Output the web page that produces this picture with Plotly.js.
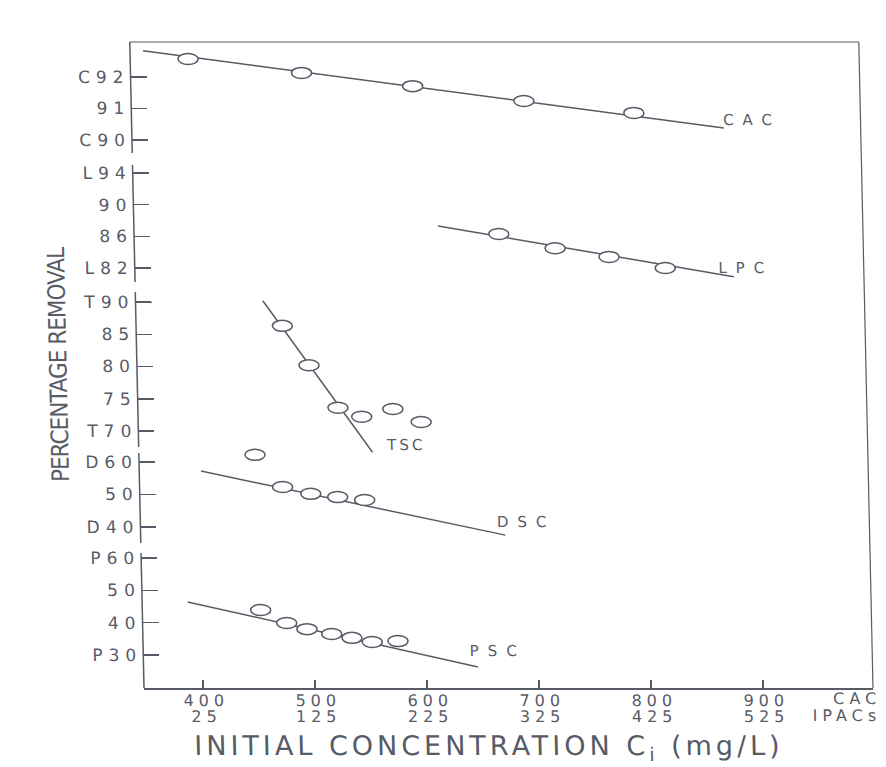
<!DOCTYPE html>
<html>
<head>
<meta charset="utf-8">
<script src="https://cdn.plot.ly/plotly-3.0.1.min.js"></script>
<style>
  html, body { margin: 0; padding: 0; background: #ffffff; }
  /* the hand-lettered sheet leans slightly to the right */
  #chart { width: 886px; height: 767px; transform: skewX(1.26deg); transform-origin: 0 688px; }
  /* stencil-style wide lettering */
  #chart .ytick text, #chart .y2tick text, #chart .y3tick text,
  #chart .y4tick text, #chart .y5tick text { letter-spacing: 6px; }
  #chart .xtick text, #chart .x2tick text { letter-spacing: 5px; }
  #chart .ytitle { letter-spacing: -1px; }
  #chart .annotation[data-index="0"] text { letter-spacing: 4px; }
  #chart .annotation[data-index="1"] text,
  #chart .annotation[data-index="2"] text { letter-spacing: 5px; }
  #chart .annotation[data-index="3"] text,
  #chart .annotation[data-index="4"] text,
  #chart .annotation[data-index="6"] text,
  #chart .annotation[data-index="7"] text { letter-spacing: 9px; }
  #chart .annotation[data-index="5"] text { letter-spacing: 3px; }
</style>
</head>
<body>
<div id="chart"></div>
<script>
// ---- x axis: initial concentration (CAC row / IPACs row) ----
const xTickVals = [400, 500, 600, 700, 800, 900];
const cacConcLabels = ['400', '500', '600', '700', '800', '900'];
const ipacConcLabels = ['25', '125', '225', '325', '425', '525'];

// ---- stacked percentage-removal scales ----
const cacTicks = [90, 91, 92];
const cacTickText = ['C90', '91', 'C92'];
const lpcTicks = [82, 86, 90, 94];
const lpcTickText = ['L82', '86', '90', 'L94'];
const tscTicks = [70, 75, 80, 85, 90];
const tscTickText = ['T70', '75', '80', '85', 'T90'];
const dscTicks = [40, 50, 60];
const dscTickText = ['D40', '50', 'D60'];
const pscTicks = [30, 40, 50, 60];
const pscTickText = ['P30', '40', '50', 'P60'];

// ---- CAC ----
const cacX = [399, 500, 599, 698, 796];
const cacY = [92.57, 92.13, 91.71, 91.24, 90.86];
const cacFitX = [359, 876];
const cacFitY = [92.83, 90.38];

// ---- LPC ----
const lpcX = [673, 723, 771, 821];
const lpcY = [86.3, 84.5, 83.4, 82.0];
const lpcFitX = [619, 882];
const lpcFitY = [87.3, 80.9];

// ---- TSC ----
const tscX = [478, 501, 526, 547, 575, 600];
const tscY = [86.3, 80.2, 73.6, 72.2, 73.4, 71.4];
const tscFitX = [461, 556];
const tscFitY = [90.2, 66.7];

// ---- DSC ----
const dscX = [451, 475, 500, 524, 548];
const dscY = [62.2, 52.3, 50.2, 49.2, 48.3];
const dscFitX = [402.5, 673];
const dscFitY = [57.2, 37.5];

// ---- PSC ----
const pscX = [453, 476, 494, 516, 534, 552, 575];
const pscY = [43.9, 39.9, 38.0, 36.5, 35.3, 34.0, 34.3];
const pscFitX = [388, 646];
const pscFitY = [46.4, 26.3];

const INK = '#575b66';
const FONT = 'DejaVu Sans, sans-serif';
const NARROW = '"Liberation Sans Narrow", "DejaVu Sans Condensed", "DejaVu Sans", sans-serif';

// figure geometry (px)
const W = 886, H = 767, TOP = 42, BOTTOM = 688, LEFT = 144, RIGHT = 873;
const PLOT_H = BOTTOM - TOP;

// every panel scale spans the full plot height; two tick rows fix its range
function rangeFor(v1, p1, v2, p2) {
  const k = (p2 - p1) / (v1 - v2);
  return [v1 - (BOTTOM - p1) / k, v1 + (p1 - TOP) / k];
}
function paperY(py) { return (BOTTOM - py) / PLOT_H; }

const xRange = [400 - (203 - LEFT) / 1.12, 400 + (RIGHT - 203) / 1.12];

const panels = [
  {ref: 'y',  ticks: cacTicks, text: cacTickText, range: rangeFor(92, 77, 90, 140), seg: [TOP, 153]},
  {ref: 'y2', ticks: lpcTicks, text: lpcTickText, range: rangeFor(94, 173, 82, 268), seg: [165, 282]},
  {ref: 'y3', ticks: tscTicks, text: tscTickText, range: rangeFor(90, 302, 70, 431), seg: [292, 447]},
  {ref: 'y4', ticks: dscTicks, text: dscTickText, range: rangeFor(60, 462, 40, 527), seg: [453, 543]},
  {ref: 'y5', ticks: pscTicks, text: pscTickText, range: rangeFor(60, 558, 30, 655), seg: [553, BOTTOM]}
];

// the lower panel is read against the shared concentration axis pair (x, x2)
const series = [
  {xref: 'x',  ref: 'y',  x: cacX, y: cacY, fx: cacFitX, fy: cacFitY},
  {xref: 'x',  ref: 'y2', x: lpcX, y: lpcY, fx: lpcFitX, fy: lpcFitY},
  {xref: 'x',  ref: 'y3', x: tscX, y: tscY, fx: tscFitX, fy: tscFitY},
  {xref: 'x',  ref: 'y4', x: dscX, y: dscY, fx: dscFitX, fy: dscFitY},
  {xref: 'x2', ref: 'y5', x: pscX, y: pscY, fx: pscFitX, fy: pscFitY}
];

const traces = series.map(s => ({
  type: 'scatter', mode: 'lines', x: s.fx, y: s.fy,
  xaxis: s.xref, yaxis: s.ref,
  line: {color: INK, width: 1.5},
  hoverinfo: 'skip', showlegend: false
}));

const tickFont = {family: FONT, size: 16, color: INK};

const layout = {
  width: W, height: H, autosize: false,
  margin: {l: LEFT, r: W - RIGHT, t: TOP, b: H - BOTTOM, pad: 0},
  paper_bgcolor: '#ffffff', plot_bgcolor: '#ffffff',
  showlegend: false,
  // CAC concentration row
  xaxis: {
    range: xRange,
    tickvals: xTickVals, ticktext: cacConcLabels,
    ticks: 'inside', ticklen: 8, tickwidth: 1.5, tickcolor: INK,
    ticklabelshift: 3, ticklabelstandoff: -3,
    showline: true, linecolor: INK, linewidth: 1.5,
    showgrid: false, zeroline: false, fixedrange: true,
    tickfont: tickFont, anchor: 'y'
  },
  // IPACs concentration row
  xaxis2: {
    range: xRange, overlaying: 'x', side: 'bottom', anchor: 'y',
    tickvals: xTickVals, ticktext: ipacConcLabels,
    ticks: '', showline: false, showgrid: false, zeroline: false, fixedrange: true,
    ticklabelstandoff: 17, ticklabelshift: 3,
    tickfont: tickFont
  },
  shapes: [],
  annotations: []
};

panels.forEach((p, i) => {
  const name = i === 0 ? 'yaxis' : 'yaxis' + (i + 1);
  const ax = {
    domain: [0, 1], range: p.range,
    tickvals: p.ticks, ticktext: p.text,
    ticks: 'inside', ticklen: 16, tickwidth: 1.5, tickcolor: INK,
    showline: false, showgrid: false, zeroline: false, fixedrange: true,
    tickfont: {family: FONT, size: 17, color: INK},
    anchor: 'x', side: 'left'
  };
  if (i > 0) ax.overlaying = 'y';
  layout[name] = ax;
  // broken left spine, one piece per panel
  layout.shapes.push({
    type: 'line', xref: 'paper', yref: 'paper',
    x0: 0, x1: 0, y0: paperY(p.seg[1]), y1: paperY(p.seg[0]),
    line: {color: INK, width: 1.5}
  });
});

layout.yaxis.title = {
  text: 'PERCENTAGE REMOVAL',
  font: {family: NARROW, size: 24, color: INK},
  standoff: 28
};

// top and right frame
layout.shapes.push(
  {type: 'line', xref: 'paper', yref: 'paper', x0: 0, x1: 1, y0: 1, y1: 1, line: {color: INK, width: 1.2}},
  {type: 'line', xref: 'paper', yref: 'paper', x0: 1, x1: 1, y0: 0, y1: 1, line: {color: INK, width: 1.2}}
);

// open elliptical data points
series.forEach(s => {
  s.x.forEach((xv, j) => {
    layout.shapes.push({
      type: 'circle', xref: s.xref, yref: s.ref,
      xsizemode: 'pixel', ysizemode: 'pixel',
      xanchor: xv, yanchor: s.y[j],
      x0: -10, x1: 10, y0: -5.5, y1: 5.5,
      line: {color: INK, width: 1.5}, fillcolor: '#ffffff', layer: 'above'
    });
  });
});

const labelFont = {family: FONT, size: 15, color: INK};
layout.annotations.push(
  {text: 'INITIAL CONCENTRATION C<sub>i</sub> (mg/L)', xref: 'paper', yref: 'paper',
   x: (487 - LEFT) / (RIGHT - LEFT), y: paperY(747), xanchor: 'center', yanchor: 'middle',
   showarrow: false, font: {family: FONT, size: 27, color: INK}},
  {text: 'CAC', xref: 'paper', yref: 'paper', x: 1, y: paperY(687),
   xanchor: 'right', yanchor: 'top', align: 'right', xshift: 10,
   showarrow: false, font: tickFont},
  {text: 'IPACs', xref: 'paper', yref: 'paper', x: 1, y: paperY(704),
   xanchor: 'right', yanchor: 'top', align: 'right', xshift: 10,
   showarrow: false, font: tickFont},
  {text: 'CAC', xref: 'x', yref: 'y', x: 876, y: 90.63, xanchor: 'left', yanchor: 'middle', xshift: 11,
   showarrow: false, font: labelFont},
  {text: 'LPC', xref: 'x', yref: 'y2', x: 868.5, y: 82.0, xanchor: 'left', yanchor: 'middle', xshift: 11,
   showarrow: false, font: labelFont},
  {text: 'TSC', xref: 'x', yref: 'y3', x: 569, y: 67.83, xanchor: 'left', yanchor: 'middle', xshift: 2,
   showarrow: false, font: labelFont},
  {text: 'DSC', xref: 'x', yref: 'y4', x: 666, y: 41.5, xanchor: 'left', yanchor: 'middle', xshift: 11,
   showarrow: false, font: labelFont},
  {text: 'PSC', xref: 'x', yref: 'y5', x: 639, y: 31.2, xanchor: 'left', yanchor: 'middle', xshift: 11,
   showarrow: false, font: labelFont}
);

Plotly.newPlot('chart', traces, layout, {staticPlot: true, displayModeBar: false});
</script>
</body>
</html>
